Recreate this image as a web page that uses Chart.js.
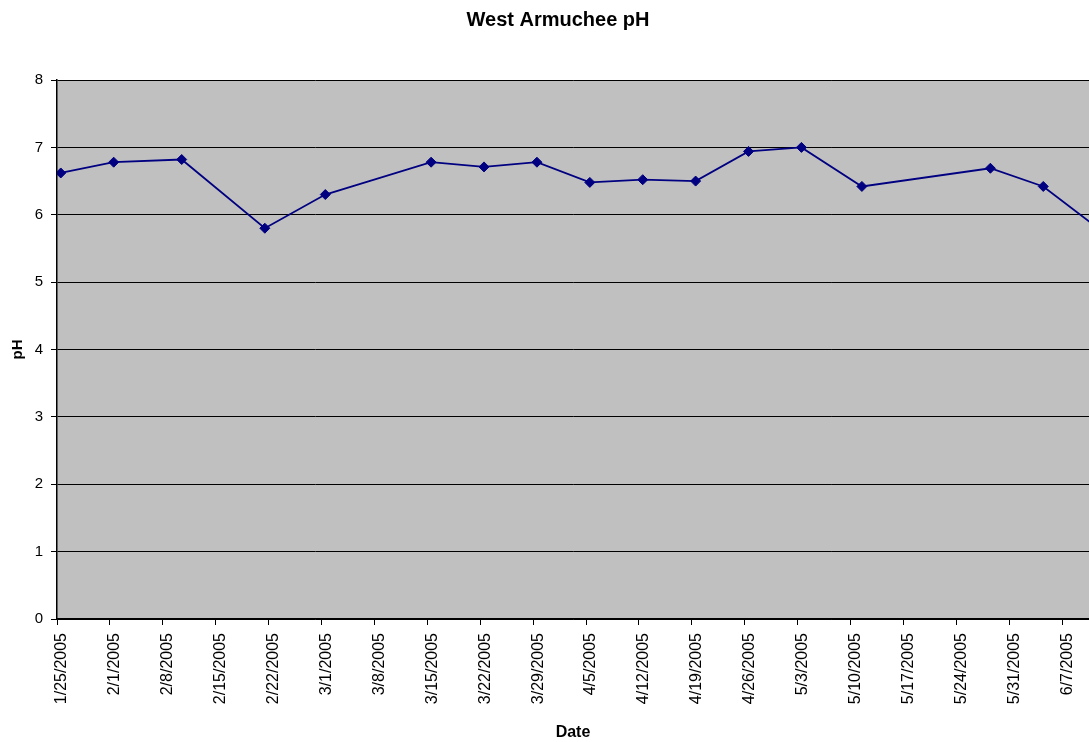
<!DOCTYPE html>
<html>
<head>
<meta charset="utf-8">
<title>West Armuchee pH</title>
<script src="https://cdn.jsdelivr.net/npm/chart.js@4/dist/chart.umd.min.js"></script>
<style>
  html, body { margin: 0; padding: 0; background: #fff; overflow: hidden; }
  canvas { display: block; }
</style>
</head>
<body>
<canvas id="phChart" width="1095" height="742"></canvas>
<script>
// sample dates and pH readings
const sampleDates = [
  '1/25/2005', '2/1/2005', '2/10/2005', '2/21/2005', '3/1/2005', '3/15/2005',
  '3/22/2005', '3/29/2005', '4/5/2005', '4/12/2005', '4/19/2005', '4/26/2005',
  '5/3/2005', '5/11/2005', '5/28/2005', '6/4/2005', '6/11/2005'
];
const phValues = [
  6.62, 6.78, 6.82, 5.80, 6.30, 6.78,
  6.71, 6.78, 6.48, 6.52, 6.50, 6.94,
  7.00, 6.42, 6.69, 6.42, 5.82
];
const tickLabels = [
  '1/25/2005', '2/1/2005', '2/8/2005', '2/15/2005', '2/22/2005', '3/1/2005',
  '3/8/2005', '3/15/2005', '3/22/2005', '3/29/2005', '4/5/2005', '4/12/2005',
  '4/19/2005', '4/26/2005', '5/3/2005', '5/10/2005', '5/17/2005', '5/24/2005',
  '5/31/2005', '6/7/2005'
];
const yTicks = [0, 1, 2, 3, 4, 5, 6, 7, 8];

// days since the first sample
const start = Date.UTC(2005, 0, 25);
function dayOf(s) {
  const [m, d, y] = s.split('/').map(Number);
  return (Date.UTC(y, m - 1, d) - start) / 86400000;
}
const lastDay = 136.55;

// readings sit in the middle of their day slot
const points = sampleDates.map((s, i) => ({ x: dayOf(s) + 0.5, y: phValues[i] }));
const labelByDay = {};
tickLabels.forEach(s => { labelByDay[dayOf(s)] = s; });

const plotBackground = {
  id: 'plotBackground',
  beforeDraw(chart) {
    const { ctx, chartArea: a } = chart;
    ctx.save();
    ctx.fillStyle = '#c0c0c0';
    ctx.fillRect(a.left, a.top, a.right - a.left, a.bottom - a.top);
    ctx.restore();
  },
  afterDraw(chart) {
    const { ctx } = chart;
    ctx.save();
    ctx.fillStyle = '#000';
    ctx.font = 'bold 20px "Liberation Sans", Arial, sans-serif';
    ctx.textAlign = 'center';
    ctx.textBaseline = 'middle';
    ctx.fillText('West Armuchee pH', 558, 20);
    ctx.restore();
  }
};

const font = { family: '"Liberation Sans", Arial, sans-serif' };

new Chart(document.getElementById('phChart').getContext('2d'), {
  type: 'line',
  data: {
    datasets: [{
      label: 'pH',
      data: points,
      borderColor: '#000080',
      backgroundColor: '#000080',
      borderWidth: 1.8,
      pointStyle: 'rectRot',
      pointRadius: 5,
      pointBorderWidth: 1,
      tension: 0
    }]
  },
  options: {
    responsive: false,
    animation: false,
    layout: { padding: { top: 80, left: 0, right: 0, bottom: 0 } },
    plugins: { legend: { display: false }, tooltip: { enabled: false } },
    scales: {
      x: {
        type: 'linear',
        min: 0,
        max: lastDay,
        afterBuildTicks: scale => {
          scale.ticks = tickLabels.map(s => ({ value: dayOf(s) }));
        },
        afterFit: scale => {
          scale.height = 123;
          scale.paddingLeft = 0;
          scale.paddingRight = 0;
        },
        ticks: {
          autoSkip: false,
          minRotation: 90,
          maxRotation: 90,
          padding: 8,
          labelOffset: 5,
          color: '#000',
          font: { ...font, size: 16 },
          callback: v => labelByDay[v] || ''
        },
        grid: { drawOnChartArea: false, drawTicks: true, tickLength: 6, color: '#000' },
        border: { color: '#000', width: 1.5 },
        title: {
          display: true,
          text: 'Date',
          color: '#000',
          padding: 0,
          font: { ...font, size: 16, weight: 'bold' }
        }
      },
      y: {
        min: 0,
        max: 8,
        afterBuildTicks: scale => {
          scale.ticks = yTicks.map(v => ({ value: v }));
        },
        afterFit: scale => { scale.width = 57; },
        ticks: {
          padding: 8,
          color: '#000',
          font: { ...font, size: 15 }
        },
        grid: { color: '#000', lineWidth: 1, tickLength: 6 },
        border: { color: '#000', width: 1.5 },
        title: {
          display: true,
          text: 'pH',
          color: '#000',
          padding: { top: 9, bottom: 0 },
          font: { ...font, size: 15, weight: 'bold' }
        }
      }
    }
  },
  plugins: [plotBackground]
});
</script>
</body>
</html>
